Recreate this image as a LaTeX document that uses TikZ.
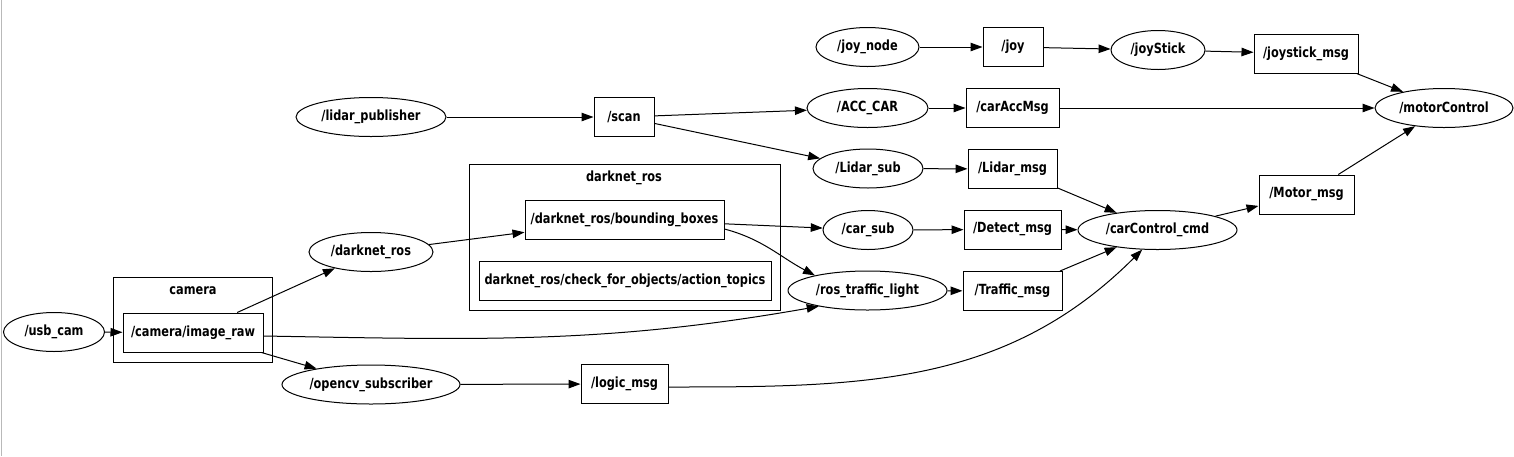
\documentclass[tikz,border=0pt]{standalone}
\usepackage{fontspec}
\setmainfont{DejaVu Sans}[FakeStretch=0.81]
\usetikzlibrary{arrows.meta,shapes.geometric}

\begin{document}
\begin{tikzpicture}[x=1pt,y=-1pt,>={Triangle[length=12pt,width=8.5pt]},
    every node/.style={font=\fontsize{14}{16}\selectfont\bfseries},
    rosnode/.style={draw,ellipse,line width=1pt,inner sep=0pt,minimum height=39},
    topic/.style={draw,rectangle,line width=1pt,inner sep=0pt,minimum height=39},
    grp/.style={draw,rectangle,line width=1pt,inner sep=0pt},
    link/.style={->,line width=1pt}]
    \useasboundingbox (0,0) rectangle (1514,456);
    \draw[gray!55,line width=1.5pt] (1.5,0) -- (1.5,456);
    \node[grp,minimum width=159,minimum height=85] (camera) at (192.5,319.5) {};
    \node (cameralbl) at (193,291) {camera};
    \node[grp,minimum width=311,minimum height=146] (darknetgrp) at (624.5,237) {};
    \node (darknetlbl) at (624,178) {darknet\_ros};
    \node[rosnode,minimum width=101] (usbcam) at (54,332) {/usb\_cam};
    \node[topic,minimum width=140] (imgraw) at (193,332.5) {/camera/image\_raw};
    \node[rosnode,minimum width=178] (opencv) at (371,384.5) {/opencv\_subscriber};
    \node[topic,minimum width=87] (logic) at (624.5,384) {/logic\_msg};
    \node[rosnode,minimum width=150] (lidarpub) at (371,117) {/lidar\_publisher};
    \node[topic,minimum width=60] (scan) at (624,117) {/scan};
    \node[rosnode,minimum width=124] (darknet) at (371,252) {/darknet\_ros};
    \node[topic,minimum width=199] (bbox) at (624.5,219.5) {/darknet\_ros/bounding\_boxes};
    \node[topic,minimum width=292] (action) at (625,281) {darknet\_ros/check\_for\_objects/action\_topics};
    \node[rosnode,minimum width=103] (joynode) at (867.5,47) {/joy\_node};
    \node[topic,minimum width=60] (joy) at (1013,47) {/joy};
    \node[rosnode,minimum width=94] (joystick) at (1158,50) {/joyStick};
    \node[topic,minimum width=104] (joymsg) at (1306,53.5) {/joystick\_msg};
    \node[rosnode,minimum width=121] (acccar) at (867.5,108) {/ACC\_CAR};
    \node[topic,minimum width=93] (accmsg) at (1012.5,108) {/carAccMsg};
    \node[rosnode,minimum width=138] (motorctl) at (1444,108) {/motorControl};
    \node[rosnode,minimum width=110] (lidarsub) at (868,168.5) {/Lidar\_sub};
    \node[topic,minimum width=89] (lidarmsg) at (1012.5,169) {/Lidar\_msg};
    \node[rosnode,minimum width=90] (carsub) at (868,230) {/car\_sub};
    \node[topic,minimum width=97] (detectmsg) at (1012.5,229.5) {/Detect\_msg};
    \node[rosnode,minimum width=159] (carctl) at (1157.5,230) {/carControl\_cmd};
    \node[topic,minimum width=95] (motormsg) at (1306.5,194.5) {/Motor\_msg};
    \node[rosnode,minimum width=159] (traffic) at (867.5,290.5) {/ros\_traffic\_light};
    \node[topic,minimum width=99] (trafficmsg) at (1012.5,291) {/Traffic\_msg};
    \draw[link] (usbcam) -- (imgraw);
    \draw[link] (imgraw) -- (darknet);
    \draw[link] (imgraw) -- (opencv);
    \draw[link] ([yshift=-3.5pt]imgraw.east) to[out=-1,in=190] (traffic.198);
    \draw[link] (opencv) -- (logic);
    \draw[link] ([yshift=-3pt]logic.east) to[out=0,in=225] (carctl.232);
    \draw[link] (lidarpub) -- (scan);
    \draw[link] (scan) -- (acccar);
    \draw[link] (scan) -- (lidarsub);
    \draw[link] (darknet) -- (bbox);
    \draw[link] (bbox) -- (carsub);
    \draw[link] ([yshift=-9.5pt]bbox.east) to[out=-15,in=152] (traffic.164);
    \draw[link] (joynode) -- (joy);
    \draw[link] (joy) -- (joystick);
    \draw[link] (joystick) -- (joymsg);
    \draw[link] (joymsg) -- (motorctl);
    \draw[link] (acccar) -- (accmsg);
    \draw[link] (accmsg) -- (motorctl);
    \draw[link] (lidarsub) -- (lidarmsg);
    \draw[link] (lidarmsg) -- (carctl);
    \draw[link] (carsub) -- (detectmsg);
    \draw[link] (detectmsg) -- (carctl);
    \draw[link] (traffic) -- (trafficmsg);
    \draw[link] (trafficmsg) -- (carctl);
    \draw[link] (carctl) -- (motormsg);
    \draw[link] (motormsg) -- (motorctl);
\end{tikzpicture}
\end{document}
